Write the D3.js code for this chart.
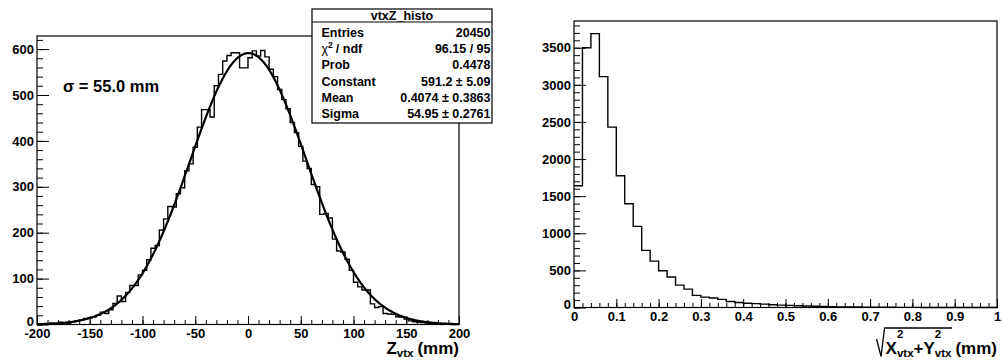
<!DOCTYPE html>
<html>
<head>
<meta charset="utf-8">
<script src="https://cdn.jsdelivr.net/npm/d3@7"></script>
<style>
  body { margin: 0; background: #fff; }
  svg { display: block; }
  text { font-family: "Liberation Sans", Arial, Helvetica, sans-serif; font-weight: bold; fill: #000; }
</style>
</head>
<body>
<svg id="chart" width="1002" height="362"></svg>
<script>
// left: vtxZ histogram, 100 bins from -200 to 200 mm
const zBinEdges = [-200, 200];
const zCounts = [
  1, 2, 1, 3, 2, 5, 4, 3, 6, 8,
  10, 13, 14, 16, 20, 27, 24, 32, 46, 62,
  50, 70, 85, 85, 108, 118, 141, 166, 172, 206,
  230, 257, 256, 285, 298, 335, 350, 386, 430, 468,
  468, 452, 520, 545, 574, 586, 592, 592, 559, 559,
  581, 596, 585, 597, 583, 556, 540, 512, 490, 470,
  440, 418, 388, 356, 340, 305, 300, 240, 242, 232,
  186, 160, 158, 142, 118, 92, 82, 75, 75, 45,
  37, 39, 24, 23, 22, 17, 16, 12, 8, 6,
  5, 4, 3, 2, 3, 1, 2, 1, 0, 1
];
const fitConstant = 591.2, fitMean = 0.4074, fitSigma = 54.95;
const zTicksX = [-200, -150, -100, -50, 0, 50, 100, 150, 200];
const zTicksY = [0, 100, 200, 300, 400, 500, 600];

const statsName = "vtxZ_histo";
const statsLabels = ["Entries", "chi2", "Prob", "Constant", "Mean", "Sigma"];
const statsValues = ["20450", "96.15 / 95", "0.4478", "591.2 \u00b1  5.09", "0.4074 \u00b1 0.3863", "54.95 \u00b1 0.2761"];

// right: transverse radius histogram, 50 bins from 0 to 1 mm
const rBinEdges = [0, 1];
const rCounts = [
  1640, 3500, 3690, 3110, 2430, 1775, 1398, 1093, 770, 625,
  495, 410, 302, 248, 163, 140, 127, 110, 80, 68,
  58, 52, 45, 38, 32, 28, 24, 20, 16, 13,
  11, 9, 8, 6, 5, 4, 3, 3, 2, 2,
  2, 1, 1, 1, 1, 0, 1, 0, 0, 0
];
const rTicksX = [0, 0.1, 0.2, 0.3, 0.4, 0.5, 0.6, 0.7, 0.8, 0.9, 1];
const rTicksY = [0, 500, 1000, 1500, 2000, 2500, 3000, 3500];

const svg = d3.select("#chart");
const FONT = "'Liberation Sans', Arial, Helvetica, sans-serif";

function stepPath(counts, x, y, lo, hi) {
  const w = (hi - lo) / counts.length;
  const p = d3.path();
  counts.forEach((c, i) => {
    const x0 = x(lo + i * w), x1 = x(lo + (i + 1) * w);
    if (i === 0) p.moveTo(x0, y(c)); else p.lineTo(x0, y(c));
    p.lineTo(x1, y(c));
  });
  return p.toString();
}

function drawAxes(g, x, y, o) {
  const fmt = o.fmt || (d => d);
  // minor ticks
  g.append("g").attr("transform", `translate(${o.left},0)`)
    .call(d3.axisLeft(y).tickValues(o.yMinor).tickSize(-6).tickFormat(""))
    .call(s => s.select(".domain").remove());
  g.append("g").attr("transform", `translate(0,${o.bottom})`)
    .call(d3.axisBottom(x).tickValues(o.xMinor).tickSize(-4.5).tickFormat(""))
    .call(s => s.select(".domain").remove());
  // major ticks + labels
  const ya = g.append("g").attr("transform", `translate(${o.left},0)`)
    .call(d3.axisLeft(y).tickValues(o.yMajor).tickSize(-12).tickPadding(3).tickFormat(d3.format("d")));
  const xa = g.append("g").attr("transform", `translate(0,${o.bottom})`)
    .call(d3.axisBottom(x).tickValues(o.xMajor).tickSize(-8.5).tickPadding(o.xPad).tickFormat(fmt));
  [ya, xa].forEach(a => {
    a.select(".domain").remove();
    a.attr("font-family", FONT).attr("font-size", 13).attr("font-weight", "bold");
  });
  // the zero label sits a little above the axis, as ROOT does
  ya.selectAll(".tick").filter(d => d === 0).select("text").attr("dy", "0.1em");
  g.selectAll(".tick line").attr("stroke", "#000").attr("stroke-width", 1);
}

// ---------------- left pad ----------------
const xL = d3.scaleLinear().domain(zBinEdges).range([37, 459]);
const yL = d3.scaleLinear().domain([0, 628.5]).range([324.5, 36]);
const gL = svg.append("g");

gL.append("rect").attr("x", 37).attr("y", 36).attr("width", 422).attr("height", 288.5)
  .attr("fill", "none").attr("stroke", "#000").attr("stroke-width", 1.2);

drawAxes(gL, xL, yL, {
  left: 37, bottom: 324.5,
  yMajor: zTicksY, yMinor: d3.range(0, 621, 20),
  xMajor: zTicksX, xMinor: d3.range(-200, 201, 10),
  xPad: 4
});

gL.append("path").attr("d", stepPath(zCounts, xL, yL, zBinEdges[0], zBinEdges[1]))
  .attr("fill", "none").attr("stroke", "#000").attr("stroke-width", 1.4);

const fitLine = d3.line().x(d => xL(d)).y(d => yL(fitConstant * Math.exp(-0.5 * ((d - fitMean) / fitSigma) ** 2)));
gL.append("path").attr("d", fitLine(d3.range(-200, 200.1, 1)))
  .attr("fill", "none").attr("stroke", "#000").attr("stroke-width", 2.2);

gL.append("text").attr("x", 63).attr("y", 92).attr("font-size", 16.5)
  .text("\u03c3 = 55.0 mm");

// x title: Z_vtx (mm)
const tz = gL.append("text").attr("text-anchor", "end").attr("x", 459).attr("y", 353.5).attr("font-size", 17);
tz.append("tspan").text("Z");
tz.append("tspan").attr("font-size", 11.5).attr("dy", 3.5).text("vtx");
tz.append("tspan").attr("dy", -3.5).attr("dx", 4).text("(mm)");

// stats box
const box = { x: 312, y: 9, w: 180, h: 114 };
const gs = svg.append("g");
gs.append("rect").attr("x", box.x).attr("y", box.y).attr("width", box.w).attr("height", box.h)
  .attr("fill", "#fff").attr("stroke", "#000").attr("stroke-width", 1.2);
gs.append("line").attr("x1", box.x).attr("x2", box.x + box.w).attr("y1", 22).attr("y2", 22)
  .attr("stroke", "#000").attr("stroke-width", 1);
gs.append("text").attr("x", box.x + box.w / 2).attr("y", 20).attr("text-anchor", "middle")
  .attr("font-size", 12.5).text(statsName);
statsLabels.forEach((lab, i) => {
  const yy = 37 + i * 16.2;
  const t = gs.append("text").attr("x", 321.5).attr("y", yy).attr("font-size", 12.5);
  if (lab === "chi2") {
    t.append("tspan").attr("font-weight", "normal").text("\u03c7");
    t.append("tspan").attr("font-size", 8.5).attr("dy", -5).text("2");
    t.append("tspan").attr("dy", 5).attr("dx", 3).text("/ ndf");
  } else {
    t.text(lab);
  }
  gs.append("text").attr("x", 490.5).attr("y", yy).attr("text-anchor", "end")
    .attr("font-size", 12.5).text(statsValues[i]);
});

// ---------------- right pad ----------------
const xR = d3.scaleLinear().domain(rBinEdges).range([574, 997]);
const yR = d3.scaleLinear().domain([0, 3860]).range([307.5, 21]);
const gR = svg.append("g");

gR.append("rect").attr("x", 574).attr("y", 21).attr("width", 423).attr("height", 286.5)
  .attr("fill", "none").attr("stroke", "#000").attr("stroke-width", 1.2);

drawAxes(gR, xR, yR, {
  left: 574, bottom: 307.5,
  yMajor: rTicksY, yMinor: d3.range(0, 3801, 100),
  xMajor: rTicksX, xMinor: d3.range(0, 51).map(i => i * 0.02),
  xPad: 4, fmt: d => (d === 0 || d === 1) ? String(d) : d3.format(".1f")(d)
});

gR.append("path").attr("d", stepPath(rCounts, xR, yR, rBinEdges[0], rBinEdges[1]))
  .attr("fill", "none").attr("stroke", "#000").attr("stroke-width", 1.4);

// x title: sqrt(X_vtx^2 + Y_vtx^2) (mm)
const gt = gR.append("g");
const base = 354;
let cx = 0;
function piece(str, size, dy) {
  const t = gt.append("text").attr("x", cx).attr("y", base + dy).attr("font-size", size).text(str);
  return t.node().getComputedTextLength();
}
function letterWithIndices(letter) {
  cx += piece(letter, 17, 0);
  const a = piece("2", 11.5, -16);
  const b = piece("vtx", 11.5, 3);
  cx += Math.max(a, b);
}
letterWithIndices("X");
cx += piece("+", 17, 0);
letterWithIndices("Y");
const radEnd = cx + 0.5;
cx += 4;
cx += piece("(mm)", 17, 0);
const p = d3.path();
p.moveTo(-9, base - 15);
p.lineTo(-4.5, base + 2.5);
p.lineTo(-1, base - 26);
p.lineTo(radEnd, base - 26);
gt.append("path").attr("d", p.toString()).attr("fill", "none").attr("stroke", "#000").attr("stroke-width", 1.3);
gt.attr("transform", `translate(${997 - cx},0)`);
</script>
</body>
</html>
